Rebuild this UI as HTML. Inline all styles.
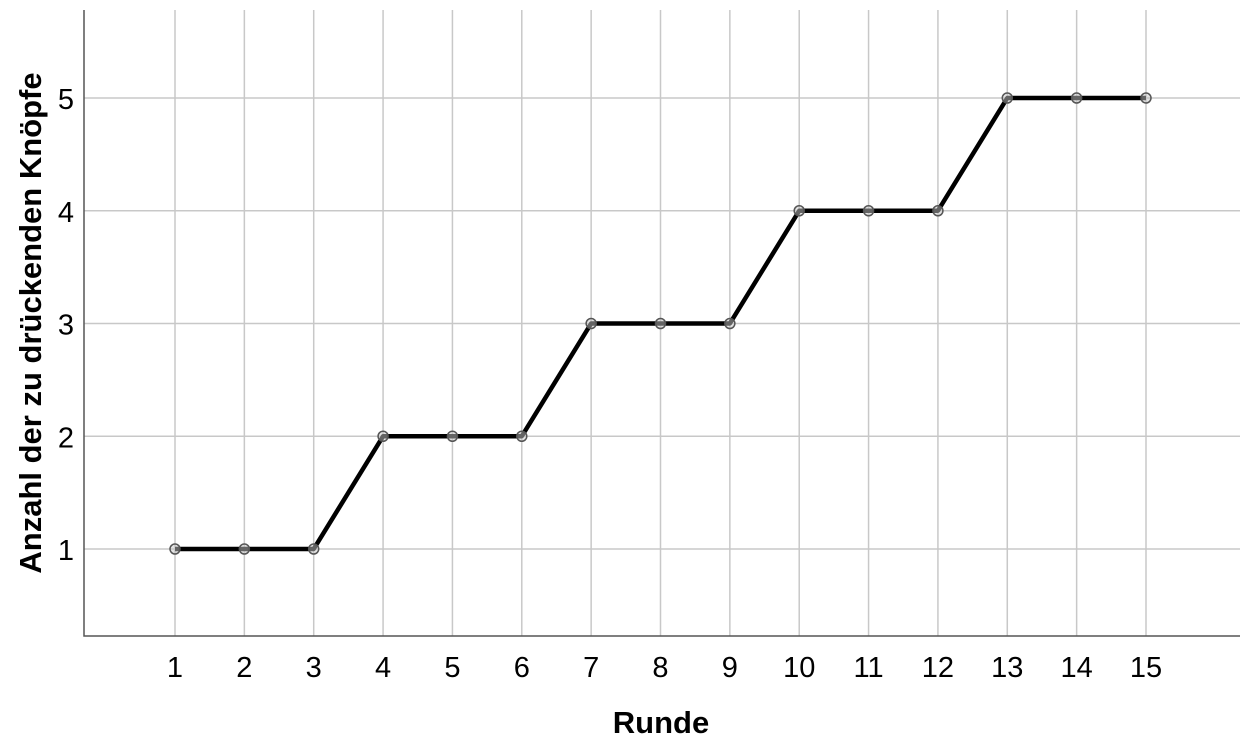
<!DOCTYPE html>
<html><head><meta charset="utf-8"><style>
body{margin:0;background:#fff;}
svg text{font-family:"Liberation Sans",Arial,sans-serif;fill:#000;}
</style></head><body>
<svg id="chart" width="1244" height="751" viewBox="0 0 1244 751" xmlns="http://www.w3.org/2000/svg">
<g id="grid"></g>
<g id="axes"></g>
<g id="series"></g>
<text x="661" y="733" text-anchor="middle" font-size="31" font-weight="bold">Runde</text>
<text transform="translate(41,323) rotate(-90)" text-anchor="middle" font-size="31" font-weight="bold">Anzahl der zu drückenden Knöpfe</text>
</svg>
<script>
const categories=[1,2,3,4,5,6,7,8,9,10,11,12,13,14,15];
const values=[1,1,1,2,2,2,3,3,3,4,4,4,5,5,5];
const yTicks=[1,2,3,4,5];
const NS="http://www.w3.org/2000/svg";
const xs=c=>175+(c-1)*(1146-175)/14;
const ys=v=>549-(v-1)*(549-98)/4;
function mk(t,a,p){const e=document.createElementNS(NS,t);for(const k in a)e.setAttribute(k,a[k]);p.appendChild(e);return e;}
const grid=document.getElementById('grid'),axes=document.getElementById('axes'),ser=document.getElementById('series');
categories.forEach(c=>{
 const l=mk('line',{x1:xs(c),x2:xs(c),y1:10,y2:636,stroke:'#c8c8c8','stroke-width':1.5},grid);
 
 
 const t=mk('text',{x:xs(c),y:677,'text-anchor':'middle','font-size':29},axes);t.textContent=c;
 
 
});
yTicks.forEach(v=>{
 const l=mk('line',{x1:84,x2:1240,y1:ys(v),y2:ys(v),stroke:'#c8c8c8','stroke-width':1.5},grid);
 
 
 const t=mk('text',{x:74,y:ys(v)+11,'text-anchor':'end','font-size':29},axes);t.textContent=v;
 
 
});
const ax=mk('path',{d:'M84 10 V636 H1240',fill:'none',stroke:'#555','stroke-width':1.5},axes);


const ln=mk('polyline',{points:categories.map((c,i)=>xs(c)+','+ys(values[i])).join(' '),fill:'none',stroke:'#000','stroke-width':4.5,'stroke-linejoin':'round'},ser);


categories.forEach((c,i)=>{
 const p=mk('circle',{cx:xs(c),cy:ys(values[i]),r:5,fill:'rgba(200,200,200,0.5)',stroke:'#555','stroke-width':1.5},ser);
 
 
});
</script>
</body></html>
